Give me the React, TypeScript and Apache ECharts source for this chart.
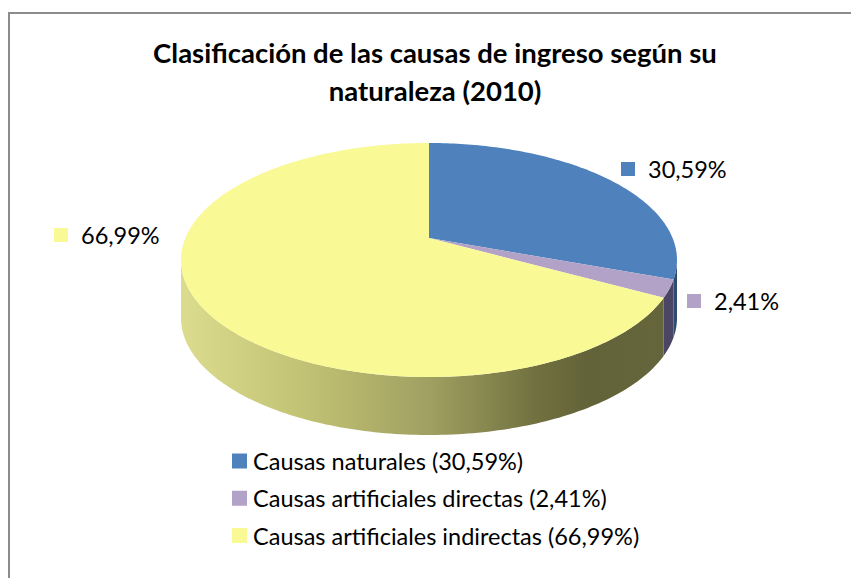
import React, { useEffect, useRef } from "react";
import * as echarts from "echarts";

const TITLE_LINES = ["Clasificación de las causas de ingreso según su", "naturaleza (2010)"];
const categories = ["Causas naturales", "Causas artificiales directas", "Causas artificiales indirectas"];
const values = [30.59, 2.41, 66.99];
const colors = ["#4F81BD", "#B3A2C7", "#F9F996"];
const sideColors = ["#2E4B73", "#4B4663", null];

// layout (not data)
const CX = 429, CY = 260, RX = 248, RY = 117, PERSP = -0.188, DEPTH = 58;
const LABEL_POS = [
  [621, 169],
  [687, 301],
  [54, 235],
];
const FONT = "Lato";

const fmt = (v: number) => v.toFixed(2).replace(".", ",") + "%";

function project(phi: number, dy = 0): number[] {
  const c = Math.sin(phi);
  const s = -Math.cos(phi);
  const den = 1 + PERSP * s;
  const X = (Math.sqrt(1 - PERSP * PERSP) * c) / den;
  const Y = (s + PERSP) / den;
  return [CX + RX * X, CY + RY * Y + dy];
}

function arcPts(a0: number, a1: number, dy = 0): number[][] {
  const pts: number[][] = [];
  const n = Math.max(2, Math.ceil(((a1 - a0) * 180) / Math.PI));
  for (let k = 0; k <= n; k++) pts.push(project(a0 + ((a1 - a0) * k) / n, dy));
  return pts;
}

export default function App() {
  const ref = useRef<HTMLDivElement>(null);
  useEffect(() => {
    if (!ref.current) return;
    const chart = echarts.init(ref.current, null, { renderer: "svg" });
    const total = values.reduce((a, b) => a + b, 0);
    const starts: number[] = [];
    let acc = 0;
    values.forEach((v) => {
      starts.push(acc);
      acc += v;
    });
    const visLo = Math.acos(PERSP);
    const visHi = 2 * Math.PI - visLo;

    const series = categories.map((name, i) => ({
      type: "custom",
      name,
      coordinateSystem: "none",
      itemStyle: { color: colors[i] },
      data: [[values[i], starts[i]]],
      renderItem: (params: any, api: any) => {
        const v = api.value(0);
        const st = api.value(1);
        const a0 = (st / total) * 2 * Math.PI;
        const a1 = ((st + v) / total) * 2 * Math.PI;
        const children: any[] = [];
        const s0 = Math.max(a0, visLo);
        const s1 = Math.min(a1, visHi);
        if (s1 > s0) {
          const top = arcPts(s0, s1, 0);
          const bot = arcPts(s0, s1, DEPTH).reverse();
          const fill =
            sideColors[i] ||
            new echarts.graphic.LinearGradient(
              CX - RX,
              0,
              CX + RX,
              0,
              [
                { offset: 0, color: "#DCDC8E" },
                { offset: 0.25, color: "#C2C274" },
                { offset: 0.5, color: "#A0A062" },
                { offset: 0.72, color: "#70703F" },
                { offset: 0.82, color: "#63633A" },
                { offset: 1, color: "#66663C" },
              ],
              true
            );
          children.push({
            type: "polygon",
            shape: { points: top.concat(bot) },
            style: { fill },
            z2: 1,
          });
        }
        const centerPt = [CX, CY + RY * PERSP];
        children.push({
          type: "polygon",
          shape: { points: [centerPt].concat(arcPts(a0, a1, 0)) },
          style: { fill: colors[i] },
          z2: 2,
        });
        const [lx, ly] = LABEL_POS[i];
        children.push({
          type: "rect",
          shape: { x: lx, y: ly - 7, width: 14, height: 14 },
          style: { fill: colors[i] },
          z2: 3,
        });
        children.push({
          type: "text",
          x: lx + 27,
          y: ly,
          style: {
            text: fmt(v),
            fill: "#000",
            font: `23.5px ${FONT}`,
            verticalAlign: "middle",
            align: "left",
          },
          z2: 3,
        });
        return { type: "group", children };
      },
    }));

    chart.setOption({
      animation: false,
      backgroundColor: "#fff",
      textStyle: { fontFamily: FONT },
      graphic: [
        {
          type: "rect",
          shape: { x: 9, y: 13, width: 900, height: 700 },
          style: { fill: "none", stroke: "#8C8C8C", lineWidth: 2 },
          z: -1,
        },
        {
          type: "text",
          x: 435,
          y: 33,
          style: {
            text: TITLE_LINES.join("\n"),
            font: `bold 27.5px ${FONT}`,
            fill: "#000",
            align: "center",
            verticalAlign: "top",
            lineHeight: 38,
          },
        },
      ],
      legend: {
        orient: "vertical",
        left: 227,
        top: 443,
        itemWidth: 15,
        itemHeight: 15,
        itemGap: 11.25,
        icon: "rect",
        data: categories,
        formatter: (name: string) => `${name} (${fmt(values[categories.indexOf(name)])})`,
        textStyle: { fontSize: 23.5, color: "#000", fontFamily: FONT, lineHeight: 26, padding: [0, 0, 0, 1] },
      },
      series,
    });
    return () => chart.dispose();
  }, []);
  return (
    <div
      ref={ref}
      style={{ position: "fixed", left: 0, top: 0, width: 851, height: 578, background: "#fff" }}
    />
  );
}
